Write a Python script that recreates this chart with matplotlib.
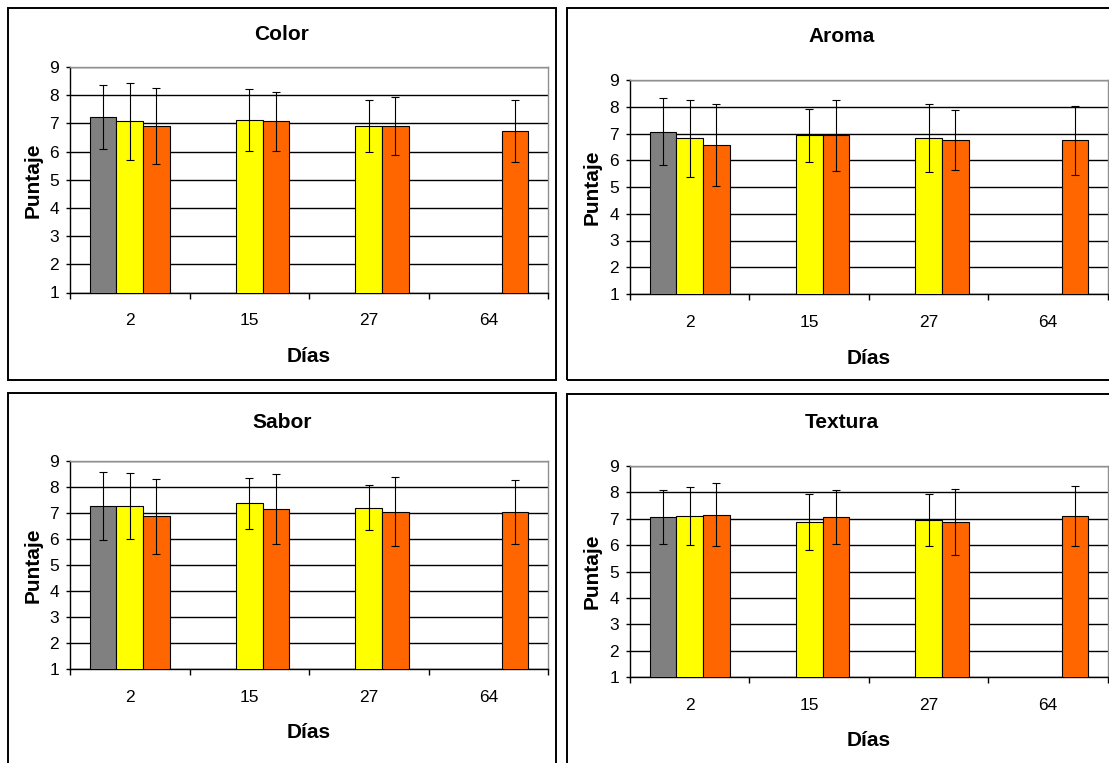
import numpy as np
import matplotlib
matplotlib.use("Agg")
import matplotlib.pyplot as plt
from matplotlib.patches import Rectangle

nan = np.nan

days = ['2', '15', '27', '64']
bar_colors = ['#808080', '#FFFF00', '#FF6600']

# mean scores per day (gray, yellow, orange) and their std deviations
color_gray = [7.22, nan, nan, nan]
color_yellow = [7.07, 7.11, 6.91, nan]
color_orange = [6.91, 7.07, 6.91, 6.72]
color_gray_err = [1.13, nan, nan, nan]
color_yellow_err = [1.36, 1.10, 0.93, nan]
color_orange_err = [1.36, 1.06, 1.04, 1.10]

aroma_gray = [7.06, nan, nan, nan]
aroma_yellow = [6.83, 6.93, 6.83, nan]
aroma_orange = [6.56, 6.93, 6.74, 6.74]
aroma_gray_err = [1.25, nan, nan, nan]
aroma_yellow_err = [1.44, 0.98, 1.27, nan]
aroma_orange_err = [1.53, 1.32, 1.12, 1.28]

sabor_gray = [7.26, nan, nan, nan]
sabor_yellow = [7.26, 7.38, 7.21, nan]
sabor_orange = [6.87, 7.15, 7.05, 7.05]
sabor_gray_err = [1.30, nan, nan, nan]
sabor_yellow_err = [1.27, 0.98, 0.87, nan]
sabor_orange_err = [1.43, 1.36, 1.33, 1.23]

textura_gray = [7.06, nan, nan, nan]
textura_yellow = [7.10, 6.87, 6.96, nan]
textura_orange = [7.15, 7.06, 6.87, 7.10]
textura_gray_err = [1.03, nan, nan, nan]
textura_yellow_err = [1.09, 1.05, 0.99, nan]
textura_orange_err = [1.19, 1.03, 1.25, 1.13]

W, H = 1109, 763
NARROW = ['Liberation Sans Narrow', 'Liberation Sans', 'DejaVu Sans']
REG = ['Liberation Sans', 'DejaVu Sans']

fig = plt.figure(figsize=(W / 100, H / 100), dpi=100)
fig.patch.set_facecolor('white')


def fx(x):
    return x / W


def fy(y):
    return 1 - y / H


def panel(title, series, errs, box, area, title_y, xlabel_y, ylabel_x):
    bl, bt, br, bb = box
    fig.patches.append(Rectangle((fx(bl), fy(bb)), fx(br - bl), (bb - bt) / H,
                                 transform=fig.transFigure, fill=False,
                                 edgecolor='black', linewidth=1.4, zorder=0))
    l, t, r, b = area
    ax = fig.add_axes([fx(l), fy(b), fx(r - l), (b - t) / H])
    x = np.arange(len(days))
    w = 1 / 4.5
    for i, (vals, err) in enumerate(zip(series, errs)):
        pos = x + (i - 1) * w
        ax.bar(pos, vals, width=w, bottom=0, color=bar_colors[i],
               edgecolor='black', linewidth=0.8, zorder=3)
        ax.errorbar(pos, vals, yerr=err, fmt='none', ecolor='black',
                    elinewidth=0.8, capsize=3, capthick=0.8, zorder=4)
    ax.set_xlim(-0.5, len(days) - 0.5)
    ax.set_ylim(1, 9)
    ax.set_yticks(range(1, 10))
    ax.set_yticklabels([str(v) for v in range(1, 10)], fontsize=12.5, family=NARROW)
    ax.set_xticks(x)
    ax.set_xticklabels(days, fontsize=12.5, family=NARROW)
    ax.set_xticks(np.arange(-0.5, len(days)), minor=True)
    ax.tick_params(axis='x', which='major', length=0, pad=15)
    ax.tick_params(axis='x', which='minor', length=4, width=1, direction='out')
    ax.tick_params(axis='y', length=3, width=1, direction='out', pad=5)
    ax.grid(axis='y', color='black', linewidth=1, zorder=1)
    ax.set_axisbelow(True)
    for s in ['top', 'right']:
        ax.spines[s].set_color('#909090')
        ax.spines[s].set_linewidth(1)
    for s in ['left', 'bottom']:
        ax.spines[s].set_color('black')
        ax.spines[s].set_linewidth(1)
    cx = (bl + br) / 2
    fig.text(fx(cx), fy(title_y), title, ha='center', va='center',
             fontsize=15, fontweight='bold', family=NARROW)
    fig.text(fx((l + r) / 2), fy(xlabel_y), 'Días', ha='center', va='center',
             fontsize=15, fontweight='bold', family=NARROW)
    fig.text(fx(ylabel_x), fy((t + b) / 2), 'Puntaje', ha='center', va='center',
             rotation=90, fontsize=15, fontweight='bold', family=REG)
    return ax


panel('Color',
      [color_gray, color_yellow, color_orange],
      [color_gray_err, color_yellow_err, color_orange_err],
      (8, 8, 556, 380), (70, 67, 548, 292.5), 35, 356, 33)
panel('Aroma',
      [aroma_gray, aroma_yellow, aroma_orange],
      [aroma_gray_err, aroma_yellow_err, aroma_orange_err],
      (567, 8, 1116, 380), (630, 80, 1108, 294), 36, 358, 592)
panel('Sabor',
      [sabor_gray, sabor_yellow, sabor_orange],
      [sabor_gray_err, sabor_yellow_err, sabor_orange_err],
      (8, 393, 556, 768), (70, 461, 548, 669), 422, 733, 33)
panel('Textura',
      [textura_gray, textura_yellow, textura_orange],
      [textura_gray_err, textura_yellow_err, textura_orange_err],
      (567, 394, 1116, 768), (630, 466, 1108, 677), 422, 740, 592)

fig.savefig('out.png', dpi=100)
